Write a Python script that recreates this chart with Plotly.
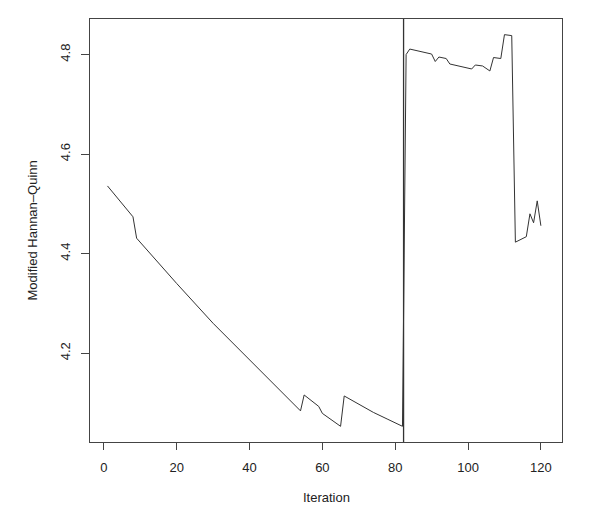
import plotly.graph_objects as go

# iteration / criterion values
iteration = [1, 8, 9, 20, 30, 40, 50, 54, 55, 59, 60, 65, 66, 70, 74, 78, 82,
             83, 84, 90, 91, 92, 94, 95, 101, 102, 104, 106, 107, 109, 110, 112,
             113, 116, 117, 118, 119, 120]
criterion = [4.536, 4.474, 4.431, 4.340, 4.260, 4.186, 4.112, 4.084, 4.116, 4.093,
             4.079, 4.053, 4.114, 4.097, 4.081, 4.067, 4.053,
             4.800, 4.811, 4.801, 4.786, 4.795, 4.792, 4.781, 4.771, 4.779, 4.777,
             4.767, 4.794, 4.792, 4.840, 4.838,
             4.423, 4.434, 4.480, 4.462, 4.506, 4.456]
split_at = 82.3

x_ticks = [0, 20, 40, 60, 80, 100, 120]
y_ticks = [4.2, 4.4, 4.6, 4.8]

# plot box in page pixels (page has an 8px body margin)
left, top, right, bottom = 90 - 8, 19 - 8, 561.7 - 8, 441.7 - 8
pw, ph = right - left, bottom - top

fig = go.Figure()
fig.add_trace(go.Scatter(x=iteration, y=criterion, mode="lines",
                         line=dict(color="#333333", width=1), showlegend=False))

# vertical separator
fig.add_vline(x=split_at, line=dict(color="#333333", width=1.3))

font = dict(family="Liberation Sans, Arial, sans-serif", size=13, color="#222222")

fig.update_layout(
    width=606, height=512,
    margin=dict(l=left, r=606 - right, t=top, b=512 - bottom),
    paper_bgcolor="white", plot_bgcolor="white",
    font=font,
    xaxis=dict(range=[-3.8, 125.8], tickvals=x_ticks, ticks="outside", ticklen=7,
               ticklabelstandoff=6,
               tickcolor="#444444", showgrid=False, zeroline=False,
               showline=True, linecolor="#444444", linewidth=1.3, mirror=True),
    yaxis=dict(range=[4.0215, 4.8714], tickvals=y_ticks, ticktext=[str(v) for v in y_ticks],
               ticks="outside", ticklen=8, tickangle=-90, ticklabelstandoff=6,
               tickcolor="#444444", showgrid=False, zeroline=False,
               showline=True, linecolor="#444444", linewidth=1.3, mirror=True),
    annotations=[
        dict(text="Iteration", x=0.5, xref="paper",
             y=-(497 - 441.7) / ph, yref="paper",
             showarrow=False, font=font, xanchor="center", yanchor="middle"),
        dict(text="Modified Hannan\u2013Quinn", x=-(90 - 33) / pw, xref="paper",
             y=0.5, yref="paper", showarrow=False, font=font, textangle=-90,
             xanchor="center", yanchor="middle"),
    ],
)

fig.write_html("out.html")
